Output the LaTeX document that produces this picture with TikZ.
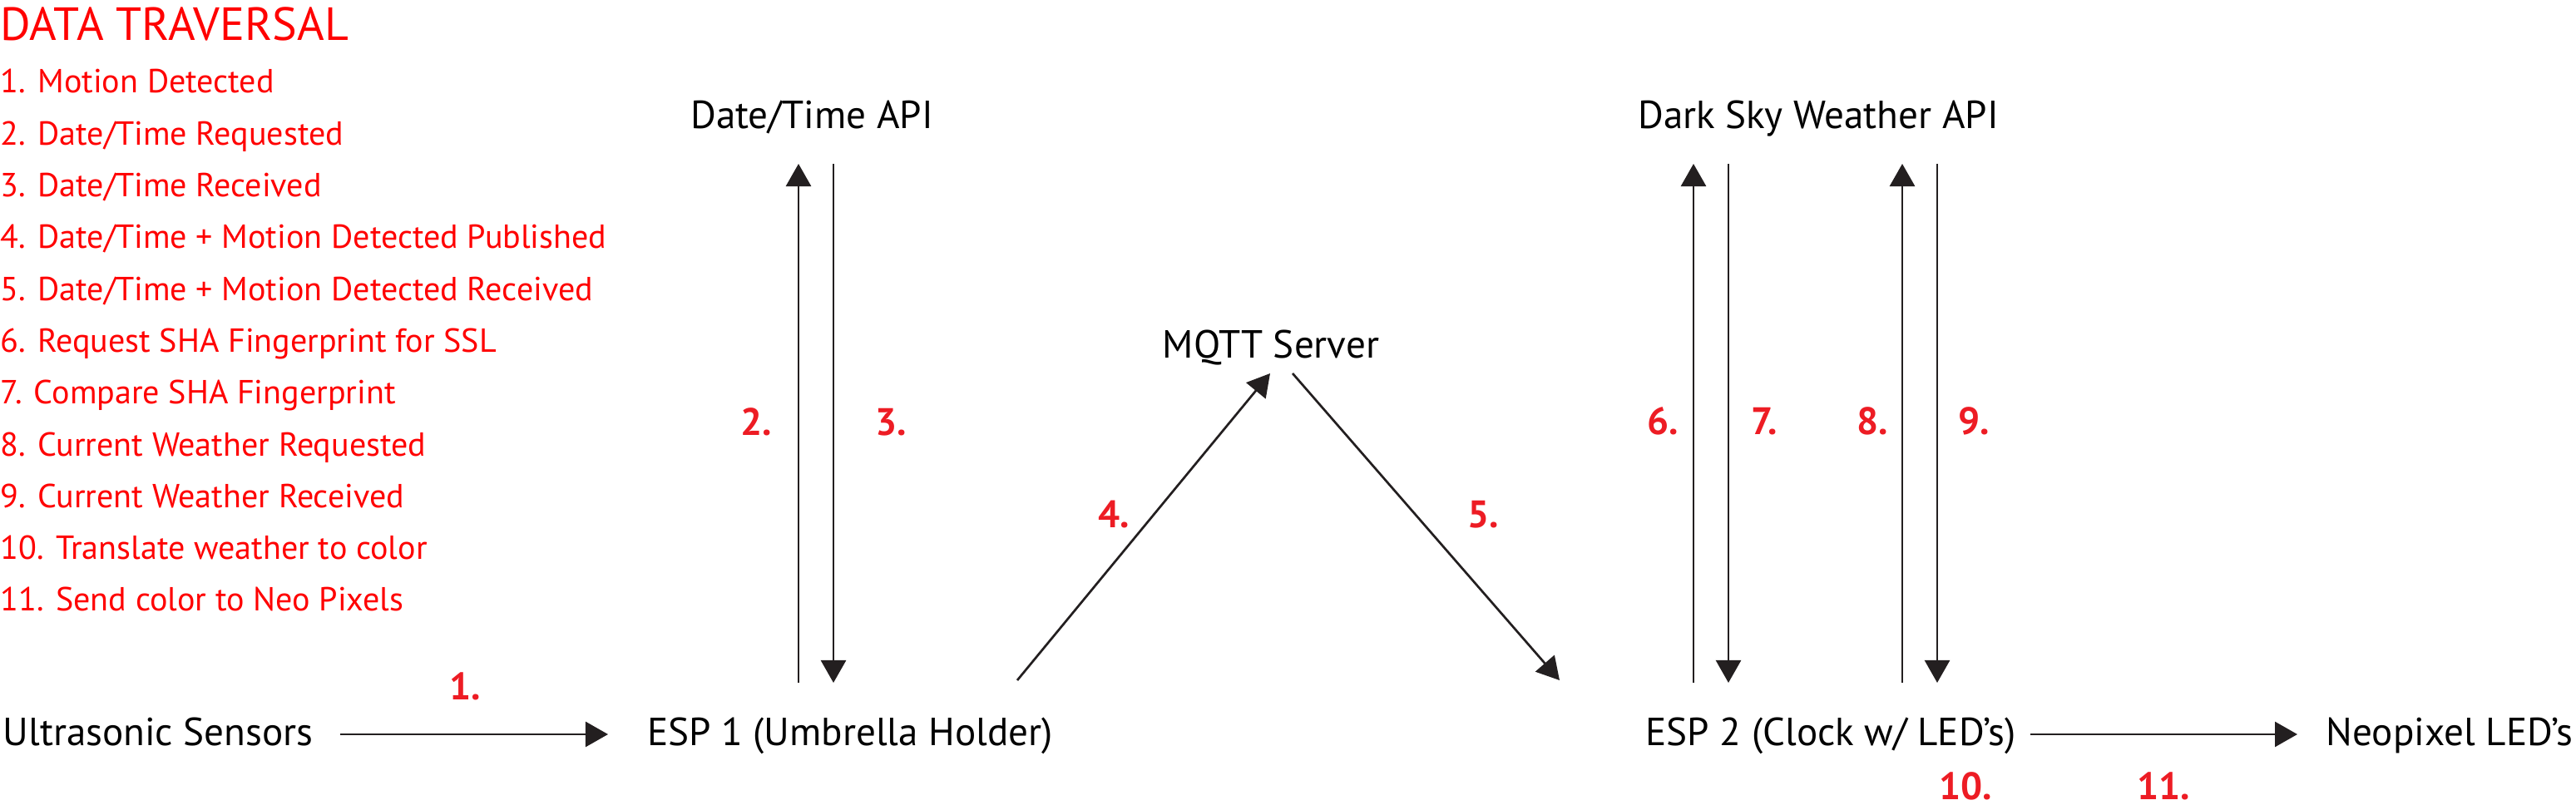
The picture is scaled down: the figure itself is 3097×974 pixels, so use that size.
\documentclass[tikz,border=0pt]{standalone}
\usepackage{fontspec}
\usetikzlibrary{arrows.meta}
\newfontfamily\nodefont{PT Sans}
\newfontfamily\labfont{PT Sans}
\definecolor{labred}{HTML}{ED1C24}
\definecolor{legred}{HTML}{FF0000}
\definecolor{arrc}{HTML}{231F20}
\tikzset{
  txt/.style={inner sep=0pt, anchor=base, font=\nodefont\fontsize{13.4pt}{14pt}\selectfont},
  leg/.style={inner sep=0pt, anchor=base west, text=legred, font=\nodefont\fontsize{11.4pt}{12pt}\selectfont},
  ttl/.style={inner sep=0pt, anchor=base west, text=legred, font=\nodefont\fontsize{15.9pt}{17pt}\selectfont},
  lab/.style={inner sep=0pt, anchor=base, text=labred, font=\labfont\bfseries\fontsize{13.1pt}{14pt}\selectfont},
  arr/.style={draw=arrc, line width=0.027cm, -{Triangle[length=0.27cm,width=0.30cm]}},
  ln/.style={draw=arrc, line width=0.027cm}
}
\begin{document}
\begin{tikzpicture}[x=0.01cm,y=-0.01cm]
\useasboundingbox (0,0) rectangle (3097,974);
% legend
\node[ttl] (leg0) at (0,49) {DATA TRAVERSAL};
\node[leg] (leg1) at (0,112) {1. Motion Detected};
\node[leg] (leg2) at (0,174.3) {2. Date/Time Requested};
\node[leg] (leg3) at (0,236.6) {3. Date/Time Received};
\node[leg] (leg4) at (0,298.9) {4. Date/Time + Motion Detected Published};
\node[leg] (leg5) at (0,361.2) {5. Date/Time + Motion Detected Received};
\node[leg] (leg6) at (0,423.5) {6. Request SHA Fingerprint for SSL};
\node[leg] (leg7) at (0,485.8) {7. Compare SHA Fingerprint};
\node[leg] (leg8) at (0,548.1) {8. Current Weather Requested};
\node[leg] (leg9) at (0,610.4) {9. Current Weather Received};
\node[leg] (leg10) at (0,672.7) {10. Translate weather to color};
\node[leg] (leg11) at (0,735) {11. Send color to Neo Pixels};
% main nodes
\node[txt] (usens) at (190,897) {Ultrasonic Sensors};
\node[txt] (esp1) at (1022,897) {ESP 1 (Umbrella Holder)};
\node[txt] (dtapi) at (976,155) {Date/Time API};
\node[txt] (mqtt) at (1528,431) {MQTT Server};
\node[txt] (dsapi) at (2186,155) {Dark Sky Weather API};
\node[txt] (esp2) at (2201,897) {ESP 2 (Clock w/ LED’s)};
\node[txt] (neo) at (2945,897) {Neopixel LED’s};
% connectors
\draw[arr] ([shift={(219,-14)}]usens.base) -- ([shift={(-291,-14)}]esp1.base);
\draw[arr] ([shift={(-62,-76)}]esp1.base) -- ([shift={(-16,42)}]dtapi.base);
\draw[arr] ([shift={(26,42)}]dtapi.base) -- ([shift={(-20,-76)}]esp1.base);
\draw[arr] ([shift={(201,-79)}]esp1.base) -- ([shift={(-1,18)}]mqtt.base);
\draw[arr] ([shift={(26,18)}]mqtt.base) -- ([shift={(-326,-79)}]esp2.base);
\draw[arr] ([shift={(-165,-76)}]esp2.base) -- ([shift={(-150,42)}]dsapi.base);
\draw[arr] ([shift={(-108,42)}]dsapi.base) -- ([shift={(-123,-76)}]esp2.base);
\draw[arr] ([shift={(86,-76)}]esp2.base) -- ([shift={(101,42)}]dsapi.base);
\draw[arr] ([shift={(143,42)}]dsapi.base) -- ([shift={(128,-76)}]esp2.base);
\draw[arr] ([shift={(240,-14)}]esp2.base) -- ([shift={(-183,-14)}]neo.base);
% step labels
\node[lab] (l1) at (559,842) {1.};
\node[lab] (l2) at (909,524) {2.};
\node[lab] (l3) at (1071,524) {3.};
\node[lab] (l4) at (1339,635) {4.};
\node[lab] (l5) at (1783,635) {5.};
\node[lab] (l6) at (1999,523) {6.};
\node[lab] (l7) at (2121,523) {7.};
\node[lab] (l8) at (2251,523) {8.};
\node[lab] (l9) at (2373,523) {9.};
\node[lab] (l10) at (2363,962) {10.};
\node[lab] (l11) at (2601,962) {11.};
\end{tikzpicture}
\end{document}
